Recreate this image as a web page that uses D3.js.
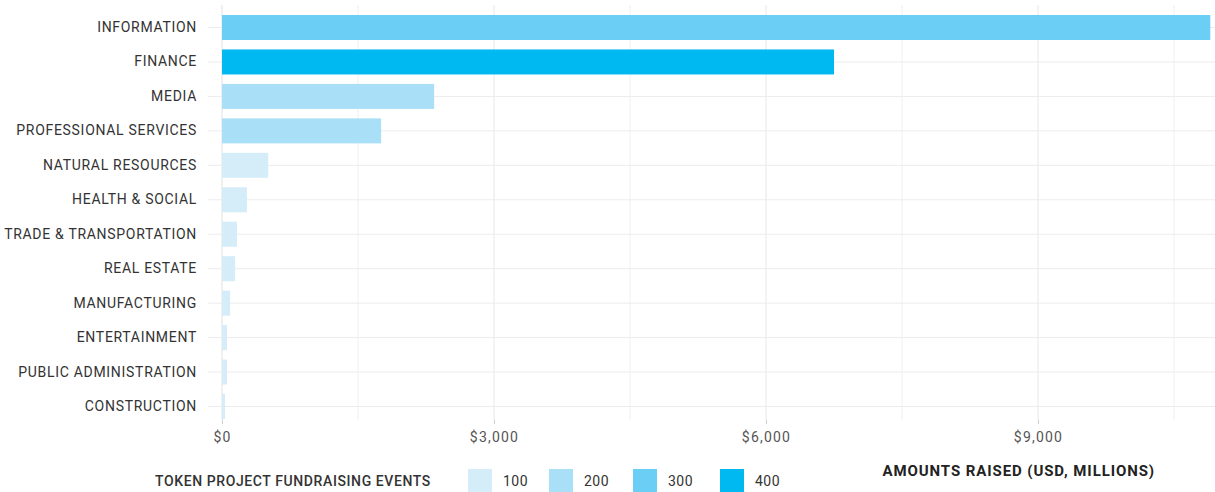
<!DOCTYPE html>
<html>
<head>
<meta charset="utf-8">
<script src="https://cdn.jsdelivr.net/npm/d3@7"></script>
<style>
  body { margin: 0; background: #fff; }
  text { font-family: Roboto, "DejaVu Sans", sans-serif; }
</style>
</head>
<body>
<div id="chart"></div>
<script>
// industries, top to bottom
const categories = ["INFORMATION", "FINANCE", "MEDIA", "PROFESSIONAL SERVICES", "NATURAL RESOURCES",
  "HEALTH & SOCIAL", "TRADE & TRANSPORTATION", "REAL ESTATE", "MANUFACTURING", "ENTERTAINMENT",
  "PUBLIC ADMINISTRATION", "CONSTRUCTION"];
// amounts raised, USD millions
const amounts = [10900, 6750, 2340, 1755, 510, 275, 165, 145, 90, 55, 55, 33];
// fundraising events bucket
const events = [300, 400, 200, 200, 100, 100, 100, 100, 100, 100, 100, 100];

const legendKeys = [100, 200, 300, 400];
const legendColors = ["#d4edf9", "#aae0f7", "#6bcef5", "#00b9f1"];
const xTicks = [0, 3000, 6000, 9000];
const xMinor = [1500, 4500, 7500, 10500];

const W = 1215, H = 492;
const margin = {top: 5, right: 0, bottom: 72, left: 222};
const width = W - margin.left - margin.right,
      height = H - margin.top - margin.bottom;

const svg = d3.select("#chart").append("svg")
    .attr("width", W).attr("height", H);
const g = svg.append("g")
    .attr("transform", `translate(${margin.left},${margin.top})`);

const data = categories.map((c, i) => ({cat: c, value: amounts[i], ev: events[i]}));

const x = d3.scaleLinear().domain([0, 10952]).range([0, width]);
// bands sit a bit lower than the panel top
const y = d3.scaleBand().domain(categories).range([10, 414]).paddingInner(0.274).paddingOuter(0);
const color = d3.scaleOrdinal().domain(legendKeys).range(legendColors);

// minor vertical grid
g.append("g").selectAll("line").data(xMinor).join("line")
    .attr("x1", d => x(d)).attr("x2", d => x(d))
    .attr("y1", 0).attr("y2", height)
    .attr("stroke", "#f0f0f0").attr("stroke-width", 1);

// major vertical grid
g.append("g").selectAll("line").data(xTicks).join("line")
    .attr("x1", d => x(d)).attr("x2", d => x(d))
    .attr("y1", 0).attr("y2", height)
    .attr("stroke", d => d === 0 ? "#e0e0e0" : "#e6e6e6").attr("stroke-width", 1);

// horizontal grid + y ticks
g.append("g").selectAll("line").data(categories).join("line")
    .attr("x1", -14).attr("x2", width)
    .attr("y1", d => y(d) + y.bandwidth() / 2).attr("y2", d => y(d) + y.bandwidth() / 2)
    .attr("stroke", "#ececec").attr("stroke-width", 1);

// bars
g.append("g").selectAll("rect").data(data).join("rect")
    .attr("x", x(0))
    .attr("y", d => y(d.cat))
    .attr("width", d => x(d.value) - x(0))
    .attr("height", y.bandwidth())
    .attr("fill", d => color(d.ev));

// y axis labels
const yAxis = g.append("g")
    .attr("transform", "translate(-14,0)")
    .call(d3.axisLeft(y).tickSize(0).tickPadding(11));
yAxis.select(".domain").remove();
yAxis.selectAll("text")
    .attr("fill", "#333")
    .style("font-size", "14px")
    .style("letter-spacing", "0.7px");

// x axis
const xAxis = g.append("g")
    .attr("transform", `translate(0,${height})`)
    .call(d3.axisBottom(x).tickValues(xTicks).tickSize(4).tickPadding(8)
      .tickFormat(d => "$" + d3.format(",")(d)));
xAxis.select(".domain").remove();
xAxis.selectAll("line").attr("stroke", "#cfcfcf");
xAxis.selectAll("text")
    .attr("fill", "#555")
    .style("font-size", "14px")
    .style("letter-spacing", "1.2px");

// axis title
svg.append("text")
    .attr("x", 1155).attr("y", 476)
    .attr("text-anchor", "end")
    .attr("fill", "#222")
    .style("font-size", "15px")
    .style("font-weight", "bold")
    .style("letter-spacing", "0.9px")
    .text("AMOUNTS RAISED (USD, MILLIONS)");

// legend
const legend = svg.append("g");
legend.append("text")
    .attr("x", 155).attr("y", 486)
    .attr("fill", "#333")
    .style("font-size", "14px")
    .style("font-weight", "500")
    .style("letter-spacing", "0.6px")
    .text("TOKEN PROJECT FUNDRAISING EVENTS");

const legendX = d3.scaleOrdinal().domain(legendKeys).range([468, 549, 633, 720]);
const item = legend.selectAll("g.item").data(legendKeys).join("g")
    .attr("class", "item")
    .attr("transform", d => `translate(${legendX(d)},469)`);
item.append("rect")
    .attr("width", 24).attr("height", 24)
    .attr("fill", d => color(d));
item.append("text")
    .attr("x", 35).attr("y", 17)
    .attr("fill", "#333")
    .style("font-size", "14px")
    .style("letter-spacing", "0.5px")
    .text(d => d);
</script>
</body>
</html>
